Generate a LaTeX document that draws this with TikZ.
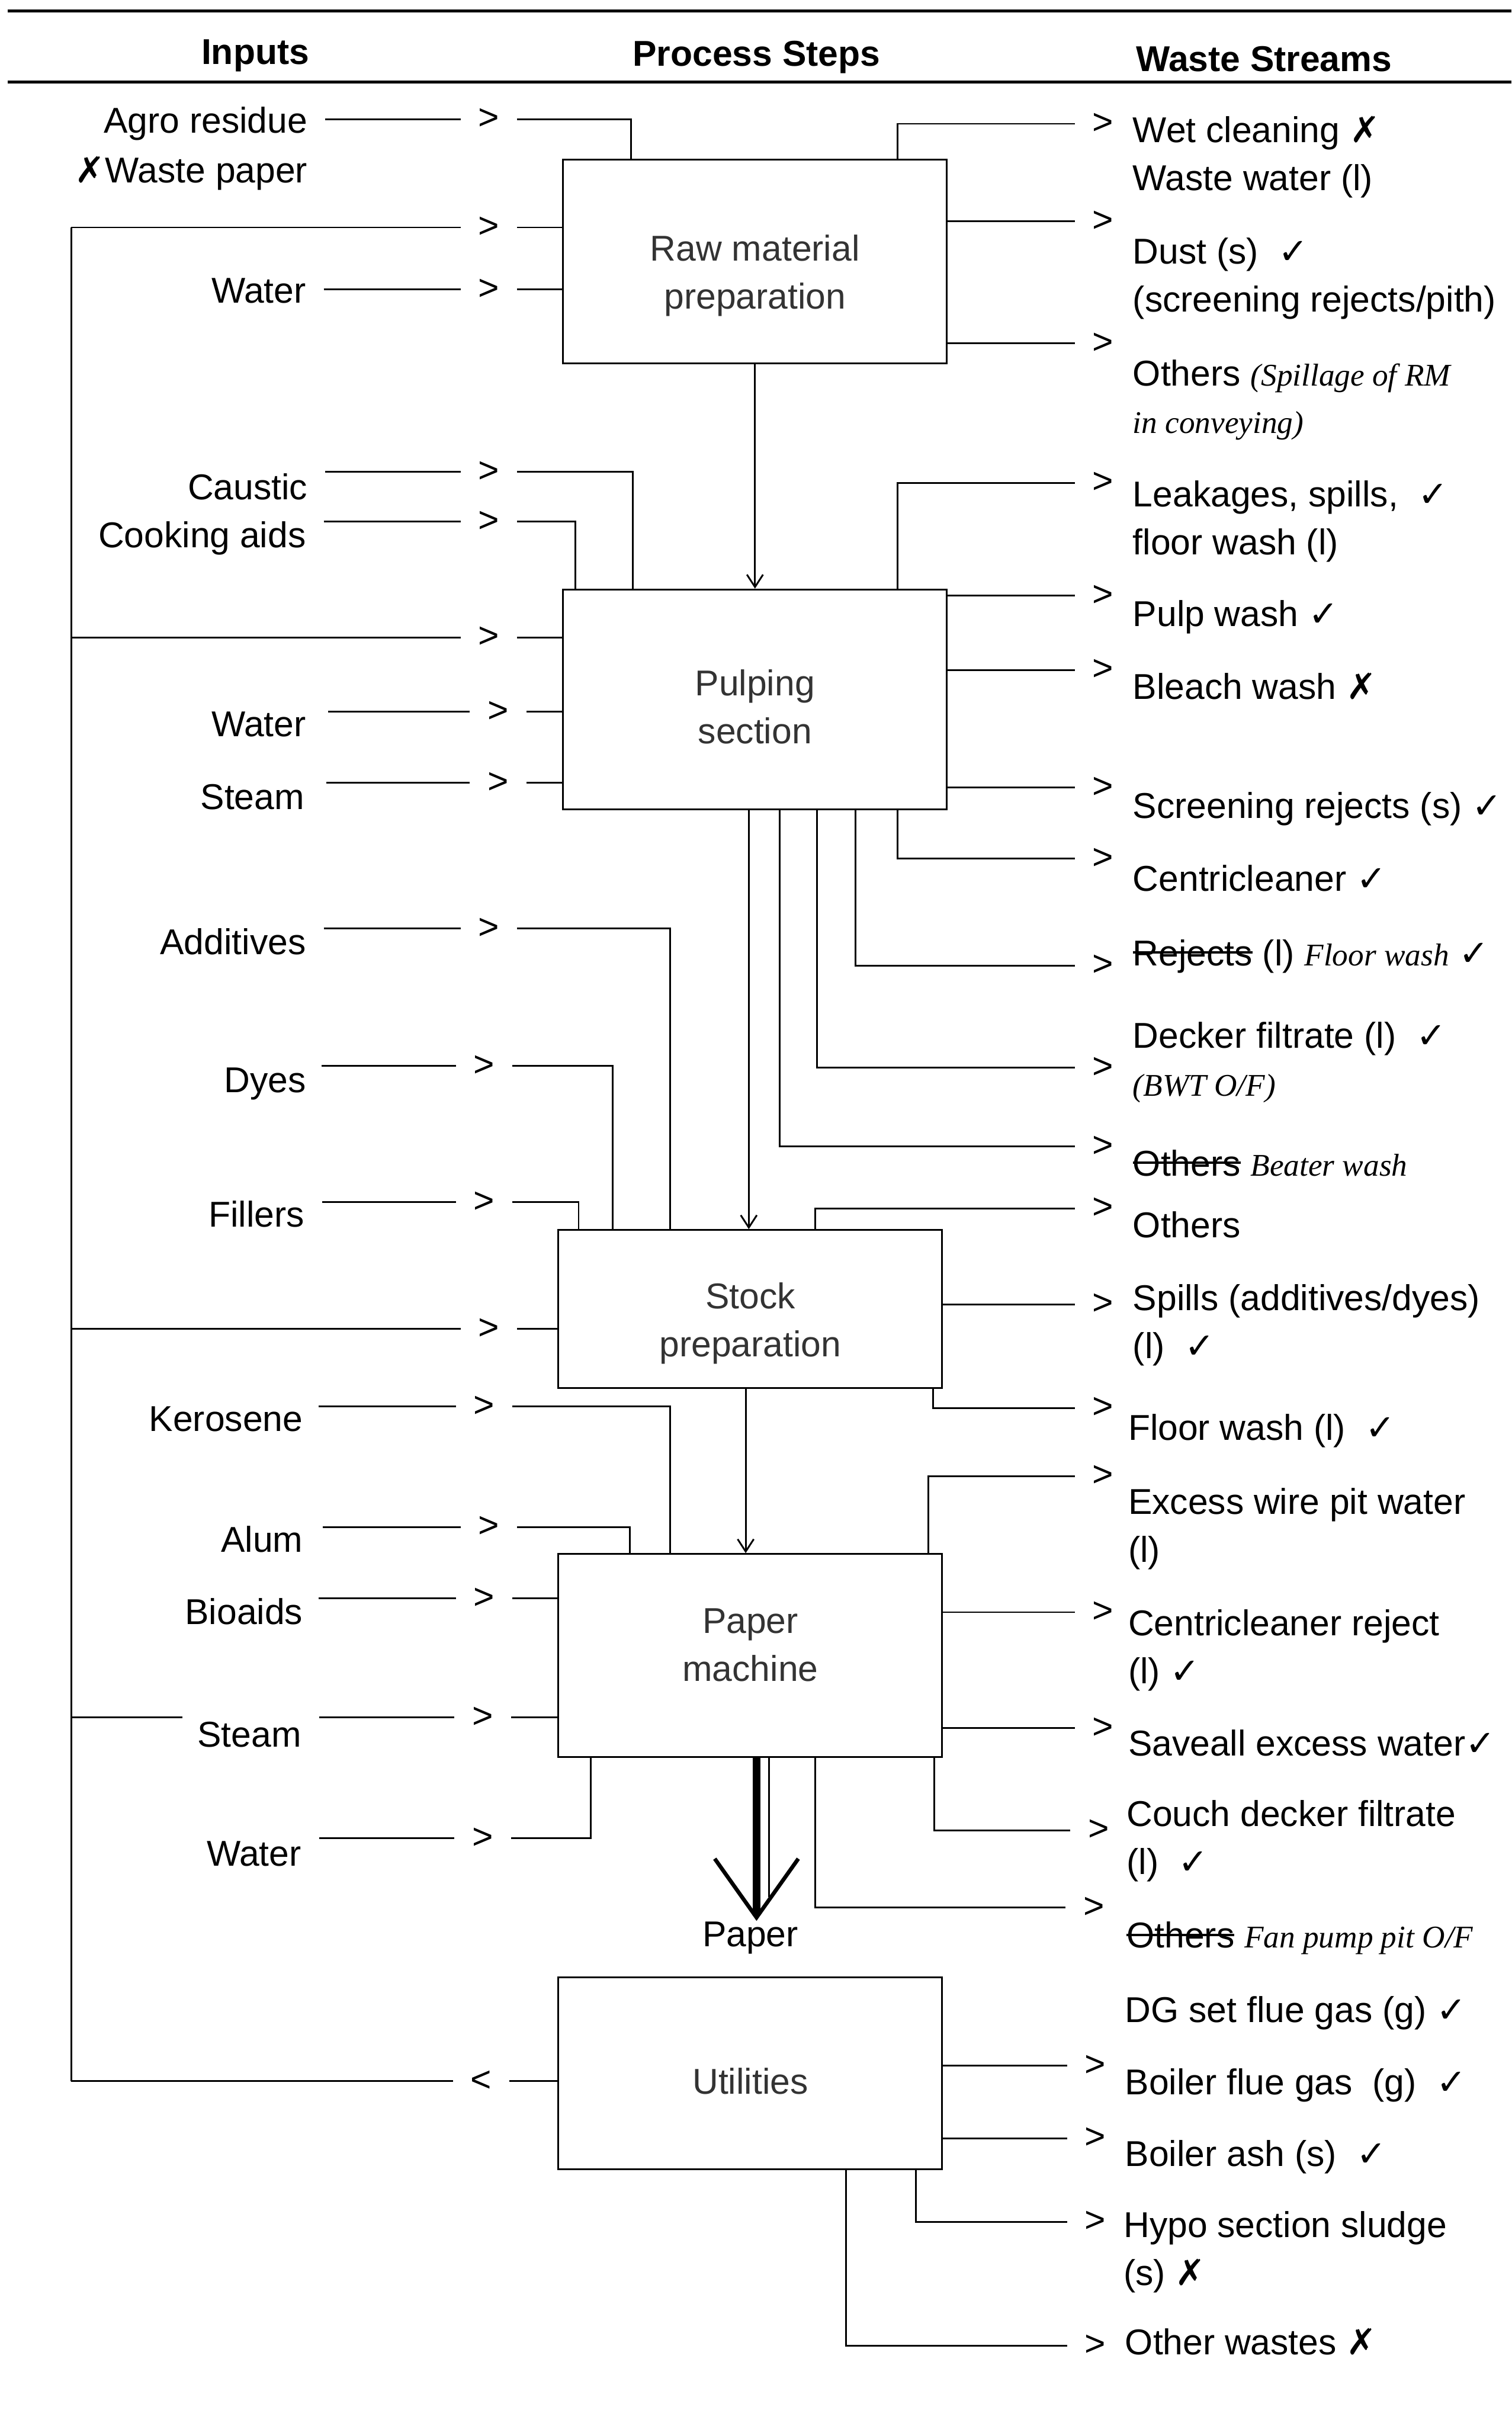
\documentclass[tikz,border=0pt]{standalone}
\usepackage{fontspec}
\setmainfont{Liberation Sans}
\newfontfamily\markfont{DejaVu Sans}
\newfontfamily\handfont{Liberation Serif}
\usetikzlibrary{arrows.meta, positioning}

\newcommand{\bodyfont}{\fontsize{16.5}{22}\selectfont}
\newcommand{\okmark}{{\markfont\char"2713}}
\newcommand{\nomark}{{\markfont\char"2717}}
\newcommand{\hand}[1]{{\handfont\itshape\fontsize{14.5}{22}\selectfont #1}}
\newsavebox{\strikebox}
\newcommand{\struck}[1]{\leavevmode\sbox{\strikebox}{#1}\rlap{\rule[0.33em]{\wd\strikebox}{0.07em}}\usebox{\strikebox}}

\begin{document}
\begin{tikzpicture}[
    x=0.025cm, y=-0.025cm,
    line/.style={line width=0.8pt},
    rule/.style={line width=1.3pt},
    flow/.style={line width=0.8pt, -{Straight Barb[length=2mm, width=2.6mm]}},
    paperflow/.style={line width=3.5pt, -{Straight Barb[length=9.5mm, width=13.5mm, line width=1.8pt]}},
    head/.style={font=\bodyfont\bfseries, inner sep=0pt},
    stepbox/.style={draw, line width=0.8pt, minimum width=6.2cm, align=center, font=\bodyfont, text=black!80},
    inlabel/.style={font=\bodyfont, anchor=east, inner sep=0pt, text height=11.5pt, text depth=3pt},
    chev/.style={font=\bodyfont, inner xsep=8pt, inner ysep=0pt},
    waste/.style={font=\bodyfont, anchor=west, align=left, inner sep=0pt, text height=11.5pt, text depth=3pt},
    waste2/.style={font=\bodyfont, anchor=west, align=left, inner sep=0pt}
]
    \useasboundingbox (0,0) rectangle (977,1568);

    % Column headings
    \draw[rule] (5,7) -- (977,7);
    \node[head] (hinputs) at (165,36) {Inputs};
    \node[head] (hsteps) at (489,37) {Process Steps};
    \node[head] (hwaste) at (817,38) {Waste Streams};
    \draw[rule] (5,53) -- (977,53);

    % Process steps
    \node[stepbox, minimum height=3.3cm] (raw) at (488,169) {\rule{0pt}{25pt}Raw material\\preparation};
    \node[stepbox, minimum height=3.55cm] (pulp) at (488,452) {\rule{0pt}{19pt}Pulping\\section};
    \node[stepbox, minimum height=2.55cm] (stock) at (485,846) {\rule{0pt}{25pt}Stock\\preparation};
    \node[stepbox, minimum height=3.28cm] (pm) at (485,1070) {Paper\\machine\rule[-10pt]{0pt}{10pt}};
    \node[stepbox, minimum height=3.1cm] (util) at (485,1340) {\rule{0pt}{19pt}Utilities};

    % Main flow
    \draw[flow] (raw) -- (pulp);
    \draw[flow] (pulp.south -| 484,0) -- (stock.north -| 484,0);
    \draw[flow] (stock.south -| 482,0) -- (pm.north -| 482,0);
    \node[font=\bodyfont, inner sep=0pt, text height=11.5pt, text depth=3pt] (paper) at (485,1252) {Paper};
    \draw[paperflow] (pm.south -| 489,0) -- (paper.north -| 489,0);
    \coordinate (pmthin) at (497,1226);
    \draw[line] (pm.south -| pmthin) -- (pmthin);

    % Return line from utilities
    \coordinate (rtop) at (46,147);
    \coordinate (rbot) at (46,1345);
    \draw[line] (rtop) -- (rbot);
    \node[chev] (cutil) at (311,1345) {<};
    \draw[line] (util.west |- cutil) -- (cutil);
    \draw[line] (cutil) -- (rbot);

    % Inputs: raw material preparation
    \node[inlabel] (agro) at (199,80) {Agro residue};
    \node[inlabel] (wpaper) at (199,112) {\nomark Waste paper};
    \node[chev] (cagro) at (316,77) {>};
    \draw[line] (agro.east |- cagro) ++(8pt,0) -- (cagro);
    \draw[line] (cagro) -| (raw.north -| 408,0);
    \node[chev] (cret1) at (316,147) {>};
    \draw[line] (rtop) -- (cret1);
    \draw[line] (cret1) -- (raw.west |- cret1);
    \node[inlabel] (water1) at (198,190) {Water};
    \node[chev] (cwater1) at (316,187) {>};
    \draw[line] (water1.east |- cwater1) ++(8pt,0) -- (cwater1);
    \draw[line] (cwater1) -- (raw.west |- cwater1);

    % Inputs: pulping section
    \node[inlabel] (caustic) at (199,317) {Caustic};
    \node[chev] (ccaustic) at (316,305) {>};
    \draw[line] (caustic.east |- ccaustic) ++(8pt,0) -- (ccaustic);
    \draw[line] (ccaustic) -| (pulp.north -| 409,0);
    \node[inlabel] (cooking) at (198,348) {Cooking aids};
    \node[chev] (ccooking) at (316,337) {>};
    \draw[line] (cooking.east |- ccooking) ++(8pt,0) -- (ccooking);
    \draw[line] (ccooking) -| (pulp.north -| 372,0);
    \node[chev] (cret2) at (316,412) {>};
    \draw[line] (rtop |- cret2) -- (cret2);
    \draw[line] (cret2) -- (pulp.west |- cret2);
    \node[inlabel] (water2) at (198,470) {Water};
    \node[chev] (cwater2) at (322,460) {>};
    \draw[line] (water2.east |- cwater2) ++(10pt,0) -- (cwater2);
    \draw[line] (cwater2) -- (pulp.west |- cwater2);
    \node[inlabel] (steam1) at (197,517) {Steam};
    \node[chev] (csteam1) at (322,506) {>};
    \draw[line] (steam1.east |- csteam1) ++(10pt,0) -- (csteam1);
    \draw[line] (csteam1) -- (pulp.west |- csteam1);

    % Inputs: stock preparation
    \node[inlabel] (additives) at (198,611) {Additives};
    \node[chev] (cadditives) at (316,600) {>};
    \draw[line] (additives.east |- cadditives) ++(8pt,0) -- (cadditives);
    \draw[line] (cadditives) -| (stock.north -| 433,0);
    \node[inlabel] (dyes) at (198,700) {Dyes};
    \node[chev] (cdyes) at (313,689) {>};
    \draw[line] (dyes.east |- cdyes) ++(7pt,0) -- (cdyes);
    \draw[line] (cdyes) -| (stock.north -| 396,0);
    \node[inlabel] (fillers) at (197,787) {Fillers};
    \node[chev] (cfillers) at (313,777) {>};
    \draw[line] (fillers.east |- cfillers) ++(8pt,0) -- (cfillers);
    \draw[line] (cfillers) -| (stock.north -| 374,0);
    \node[chev] (cret3) at (316,859) {>};
    \draw[line] (rtop |- cret3) -- (cret3);
    \draw[line] (cret3) -- (stock.west |- cret3);

    % Inputs: paper machine
    \node[inlabel] (kerosene) at (196,919) {Kerosene};
    \node[chev] (ckerosene) at (313,909) {>};
    \draw[line] (kerosene.east |- ckerosene) ++(7pt,0) -- (ckerosene);
    \draw[line] (ckerosene) -| (pm.north -| 433,0);
    \node[inlabel] (alum) at (196,997) {Alum};
    \node[chev] (calum) at (316,987) {>};
    \draw[line] (alum.east |- calum) ++(9pt,0) -- (calum);
    \draw[line] (calum) -| (pm.north -| 407,0);
    \node[inlabel] (bioaids) at (196,1044) {Bioaids};
    \node[chev] (cbioaids) at (313,1033) {>};
    \draw[line] (bioaids.east |- cbioaids) ++(7pt,0) -- (cbioaids);
    \draw[line] (cbioaids) -- (pm.west |- cbioaids);
    \coordinate (rsteam) at (118,1110);
    \draw[line] (rtop |- rsteam) -- (rsteam);
    \node[inlabel] (steam2) at (195,1123) {Steam};
    \node[chev] (csteam2) at (312,1110) {>};
    \draw[line] (steam2.east |- csteam2) ++(8pt,0) -- (csteam2);
    \draw[line] (csteam2) -- (pm.west |- csteam2);
    \node[inlabel] (water3) at (195,1200) {Water};
    \node[chev] (cwater3) at (312,1188) {>};
    \draw[line] (water3.east |- cwater3) ++(8pt,0) -- (cwater3);
    \draw[line] (cwater3) -| (pm.south -| 382,0);

    % Waste streams: raw material preparation
    \node[chev] (cwet) at (713,80) {>};
    \draw[line] (raw.north -| 580,0) |- (cwet);
    \node[waste2] (wet) at (732,101.5) {Wet cleaning \nomark\\Waste water (l)};
    \node[chev] (cdust) at (713,143) {>};
    \draw[line] (raw.east |- cdust) -- (cdust);
    \node[waste2] (dust) at (732,180) {Dust (s)\ \ \okmark\\(screening rejects/pith)};
    \node[chev] (crmothers) at (713,222) {>};
    \draw[line] (raw.east |- crmothers) -- (crmothers);
    \node[waste2] (rmothers) at (732,258.5) {Others \hand{(Spillage of RM}\\\hand{in conveying)}};

    % Waste streams: pulping section
    \node[chev] (cleak) at (713,312) {>};
    \draw[line] (pulp.north -| 580,0) |- (cleak);
    \node[waste2] (leak) at (732,337) {Leakages, spills,\ \ \okmark\\floor wash (l)};
    \node[chev] (cpulpwash) at (713,385) {>};
    \draw[line] (pulp.east |- cpulpwash) -- (cpulpwash);
    \node[waste] (pulpwash) at (732,399) {Pulp wash \okmark};
    \node[chev] (cbleach) at (713,433) {>};
    \draw[line] (pulp.east |- cbleach) -- (cbleach);
    \node[waste] (bleach) at (732,446) {Bleach wash \nomark};
    \node[chev] (cscreen) at (713,509) {>};
    \draw[line] (pulp.east |- cscreen) -- (cscreen);
    \node[waste] (screen) at (732,523) {Screening rejects (s) \okmark};
    \node[chev] (ccentri) at (713,555) {>};
    \draw[line] (pulp.south -| 580,0) |- (ccentri);
    \node[waste] (centri) at (732,570) {Centricleaner \okmark};
    \node[chev] (crejects) at (713,624) {>};
    \draw[line] (pulp.south -| 553,0) |- (crejects);
    \node[waste] (rejects) at (732,618) {\struck{Rejects} (l) \hand{Floor wash} \okmark};
    \node[chev] (cdecker) at (713,690) {>};
    \draw[line] (pulp.south -| 528,0) |- (cdecker);
    \node[waste2] (decker) at (732,686.5) {Decker filtrate (l)\ \ \okmark\\\hand{(BWT O/F)}};
    \node[chev] (cbeater) at (713,741) {>};
    \draw[line] (pulp.south -| 504,0) |- (cbeater);
    \node[waste] (beater) at (732,754) {\struck{Others} \hand{Beater wash}};

    % Waste streams: stock preparation
    \node[chev] (cstothers) at (713,781) {>};
    \draw[line] (stock.north -| 527,0) |- (cstothers);
    \node[waste] (stothers) at (732,794) {Others};
    \node[chev] (cspills) at (713,843) {>};
    \draw[line] (stock.east |- cspills) -- (cspills);
    \node[waste2] (spills) at (732,856.5) {Spills (additives/dyes)\\(l)\ \ \okmark};
    \node[chev] (cfloor) at (713,910) {>};
    \draw[line] (stock.south -| 603,0) |- (cfloor);
    \node[waste] (floor) at (729,925) {Floor wash (l)\ \ \okmark};

    % Waste streams: paper machine
    \node[chev] (cwire) at (713,954) {>};
    \draw[line] (pm.north -| 600,0) |- (cwire);
    \node[waste2] (wire) at (729,988) {Excess wire pit water\\(l)};
    \node[chev] (ccreject) at (713,1042) {>};
    \draw[line] (pm.east |- ccreject) -- (ccreject);
    \node[waste2] (creject) at (729,1066.5) {Centricleaner reject\\(l) \okmark};
    \node[chev] (csaveall) at (713,1117) {>};
    \draw[line] (pm.east |- csaveall) -- (csaveall);
    \node[waste] (saveall) at (729,1129) {Saveall excess water\okmark};
    \node[chev] (ccouch) at (710,1183) {>};
    \draw[line] (pm.south -| 604,0) |- (ccouch);
    \node[waste2] (couch) at (728,1190) {Couch decker filtrate\\(l)\ \ \okmark};
    \node[chev] (cfanpump) at (707,1233) {>};
    \draw[line] (pm.south -| 527,0) |- (cfanpump);
    \node[waste] (fanpump) at (728,1253) {\struck{Others} \hand{Fan pump pit O/F}};

    % Waste streams: utilities
    \node[waste] (dgset) at (727,1301) {DG set flue gas (g) \okmark};
    \node[chev] (cboiler) at (708,1335) {>};
    \draw[line] (util.east |- cboiler) -- (cboiler);
    \node[waste] (boiler) at (727,1348) {Boiler flue gas\ \ (g)\ \ \okmark};
    \node[chev] (cash) at (708,1382) {>};
    \draw[line] (util.east |- cash) -- (cash);
    \node[waste] (ash) at (727,1394) {Boiler ash (s)\ \ \okmark};
    \node[chev] (chypo) at (708,1436) {>};
    \draw[line] (util.south -| 592,0) |- (chypo);
    \node[waste2] (hypo) at (726,1455.5) {Hypo section sludge\\(s) \nomark};
    \node[chev] (cother) at (708,1516) {>};
    \draw[line] (util.south -| 547,0) |- (cother);
    \node[waste] (other) at (727,1516) {Other wastes \nomark};
\end{tikzpicture}
\end{document}
